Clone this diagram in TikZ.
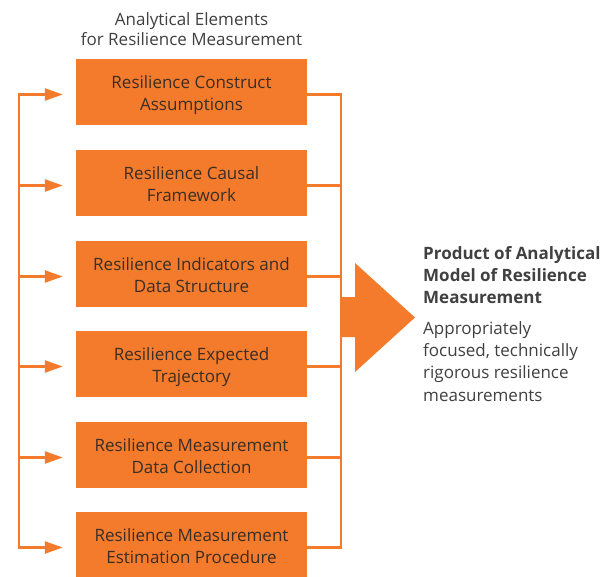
\documentclass[tikz,border=0pt]{standalone}
\usepackage{fontspec}
\setmainfont{Open Sans}
\usetikzlibrary{arrows.meta}
\definecolor{rorange}{HTML}{F37B2B}
\definecolor{boxtext}{HTML}{3A2E26}
\definecolor{captext}{HTML}{404040}
\tikzset{
  element/.style={fill=rorange, draw=none, minimum width=231pt, minimum height=66pt,
    align=center, text=boxtext, inner sep=0pt, font=\fontsize{17}{22}\selectfont,
    % fixed text box so both lines sit a little below the middle of every box
    text height=41pt, text depth=4pt},
  conn/.style={draw=rorange, line width=2.5pt},
  feed/.style={conn, -{Triangle[length=18pt,width=12pt]}, shorten >=13pt},
  caption/.style={text=captext, align=center, inner sep=0pt, font=\fontsize{17}{20}\selectfont},
  sidetext/.style={text=captext, align=left, anchor=north west, inner sep=0pt}
}
\begin{document}
\begin{tikzpicture}[x=1pt, y=-1pt]
\useasboundingbox (0,0) rectangle (610,577);

% heading over the column of elements
\node[caption, anchor=north] (title) at (191.5,12) {Analytical Elements\\for Resilience Measurement};

% the six analytical elements
\node[element] (b1) at (191.5,92)  {Resilience Construct\\Assumptions};
\node[element] (b2) at (191.5,183) {Resilience Causal\\Framework};
\node[element] (b3) at (191.5,274) {Resilience Indicators and\\Data Structure};
\node[element] (b4) at (191.5,364) {Resilience Expected\\Trajectory};
\node[element] (b5) at (191.5,455) {Resilience Measurement\\Data Collection};
\node[element] (b6) at (191.5,545) {Resilience Measurement\\Estimation Procedure};

% feedback bracket on the left
\coordinate (ltop) at (19,94.5);
\coordinate (lbot) at (19,547.5);
\draw[conn, line cap=rect] (ltop) -- (lbot);
\foreach \b in {b1,b2,b3,b4,b5,b6}
  \draw[feed] ([yshift=-2.5pt]\b.west -| ltop) -- ([yshift=-2.5pt]\b.west);

% collecting bracket on the right
\coordinate (rtop) at (341,94.5);
\coordinate (rbot) at (341,547.5);
\draw[conn, line cap=rect] (rtop) -- (rbot);
\foreach \b in {b1,b2,b3,b4,b5,b6}
  \draw[conn] ([yshift=-2.5pt]\b.east) -- ([yshift=-2.5pt]\b.east -| rtop);

% large arrow pointing to the product
\fill[rorange] (341,297) -- (355,297) -- (355,263) -- (415,317.5)
  -- (355,372) -- (355,337) -- (341,337) -- cycle;

% product description
\node[sidetext, font=\bfseries\fontsize{17}{22.3}\selectfont] (prodhead) at (423,246)
  {Product of Analytical\\Model of Resilience\\Measurement};
\node[sidetext, font=\fontsize{17}{22.3}\selectfont] (proddesc) at (423,321)
  {Appropriately\\focused, technically\\rigorous resilience\\measurements};
\end{tikzpicture}
\end{document}
